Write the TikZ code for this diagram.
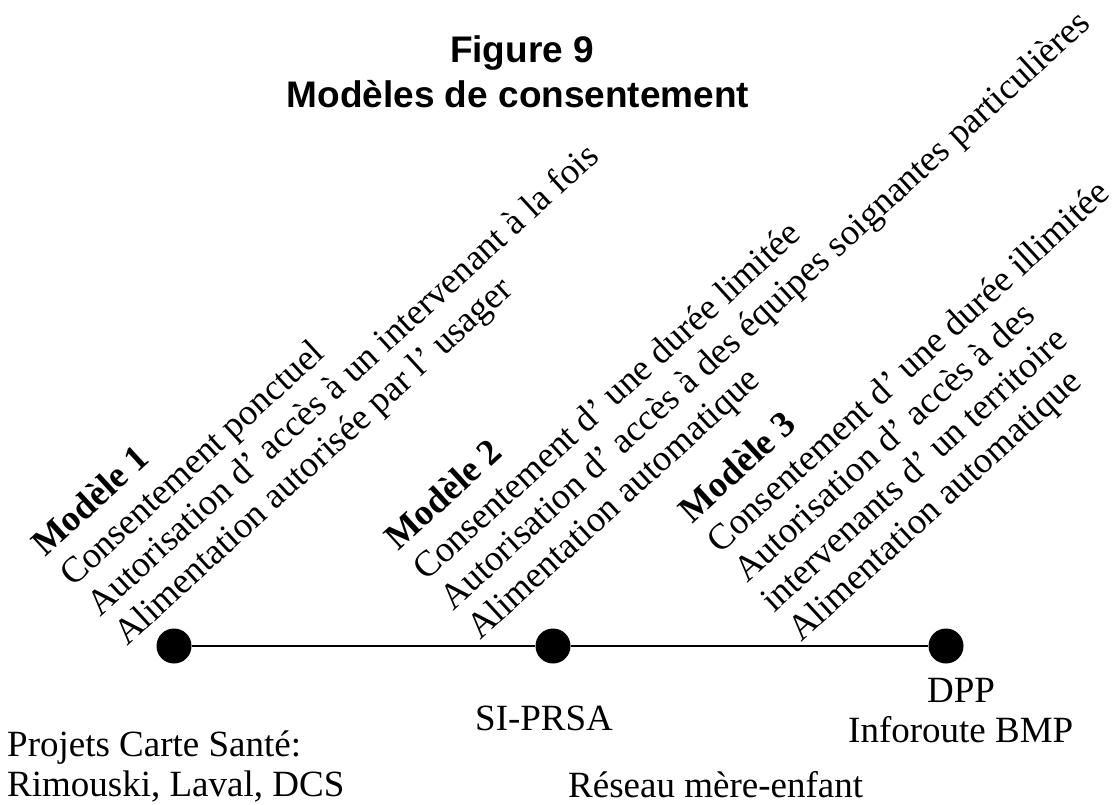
\documentclass[tikz,border=0pt]{standalone}
\usepackage{fontspec}
\setmainfont{Liberation Serif}
\newfontfamily\headfont{Liberation Sans}
\begin{document}
\begin{tikzpicture}[x=1pt,y=-1pt,
  dot/.style={circle,fill=black,minimum size=35pt,inner sep=0pt},
  txt/.style={anchor=base west,inner sep=0pt,font=\fontsize{36.5}{40}\selectfont},
  modelname/.style={txt,font=\fontsize{36.5}{40}\selectfont\bfseries},
  caption/.style={anchor=base west,inner sep=0pt,font=\fontsize{37}{42}\selectfont},
  headline/.style={anchor=base,inner sep=0pt,font=\headfont\bfseries\fontsize{37}{42}\selectfont},
  slanted/.style={rotate=42.5,transform shape}]
\useasboundingbox (0,0) rectangle (1117,805);

% title
\node[headline] (t1) at (522,63) {Figure 9};
\node[headline] (t2) at (518,108) {Modèles de consentement};

% timeline
\node[dot] (d1) at (174,646) {};
\node[dot] (d2) at (553,646) {};
\node[dot] (d3) at (946,646) {};
\draw[line width=1.3pt] (d1) -- (d2);
\draw[line width=1.3pt] (d2) -- (d3);

% model 1
\begin{scope}[shift={(127,647)},slanted]
  \node[modelname] (m1a) at (0,-121) {Modèle 1};
  \node[txt] (m1b) at (0,-80) {Consentement ponctuel};
  \node[txt] (m1c) at (0,-40) {Autorisation d’ accès à un intervenant à la fois};
  \node[txt] (m1d) at (0,0) {Alimentation autorisée par l’ usager};
\end{scope}

% model 2
\begin{scope}[shift={(480,641)},slanted]
  \node[modelname] (m2a) at (0,-121) {Modèle 2};
  \node[txt] (m2b) at (0,-80) {Consentement d’ une durée limitée};
  \node[txt] (m2c) at (0,-40) {Autorisation d’ accès à des équipes soignantes particulières};
  \node[txt] (m2d) at (0,0) {Alimentation automatique};
\end{scope}

% model 3
\begin{scope}[shift={(801,643)},slanted]
  \node[modelname] (m3a) at (0,-161) {Modèle 3};
  \node[txt] (m3b) at (0,-120) {Consentement d’ une durée illimitée};
  \node[txt] (m3c) at (0,-80) {Autorisation d’ accès à des};
  \node[txt] (m3d) at (0,-40) {intervenants d’ un territoire};
  \node[txt] (m3e) at (0,0) {Alimentation automatique};
\end{scope}

% projects under each model
\node[caption] (p1a) at (7,756) {Projets Carte Santé:};
\node[caption] (p1b) at (7,796) {Rimouski, Laval, DCS};
\node[caption] (p2a) at (475,730) {SI-PRSA};
\node[caption] (p2b) at (568,797) {Réseau mère-enfant};
\node[caption] (p3a) at (927,702) {DPP};
\node[caption] (p3b) at (848,742) {Inforoute BMP};
\end{tikzpicture}
\end{document}
